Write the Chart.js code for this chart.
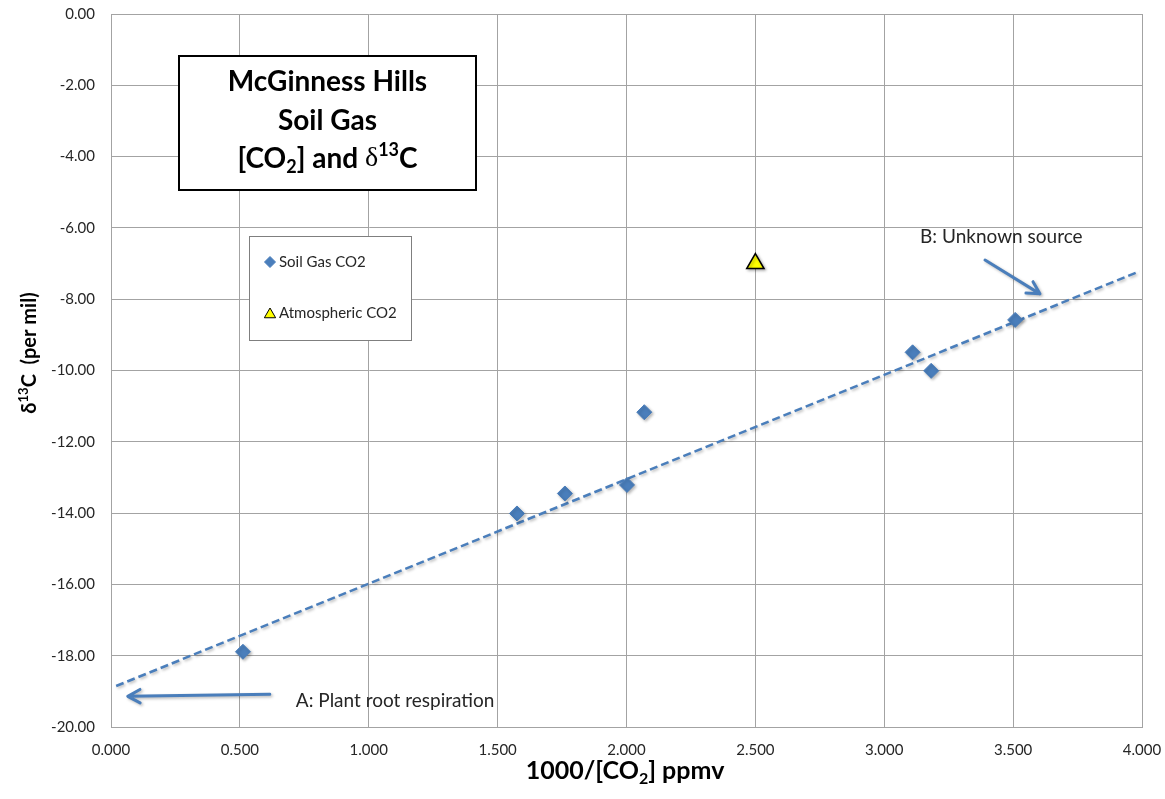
<!DOCTYPE html>
<html>
<head>
<meta charset="utf-8">
<title>McGinness Hills Soil Gas</title>
<script src="https://cdn.jsdelivr.net/npm/chart.js@4.4.0/dist/chart.umd.min.js"></script>
<style>
  html, body { margin: 0; padding: 0; background: #fff; overflow: hidden; }
  #wrap { width: 1165px; height: 799px; position: relative; }
  canvas { display: block; }
</style>
</head>
<body>
<div id="wrap"><canvas id="co2-chart"></canvas></div>
<script>
// Soil gas samples: 1000/[CO2] (ppmv) against d13C (per mil)
const soilX = [0.512, 1.575, 1.761, 2.002, 2.069, 3.110, 3.182, 3.508];
const soilY = [-17.89, -14.01, -13.45, -13.21, -11.17, -9.49, -10.01, -8.58];

// Atmospheric reference point
const atmX = [2.50];
const atmY = [-7.00];

// Linear trend through the soil gas samples (end points)
const trendX = [0.02, 3.99];
const trendY = [-18.85, -7.22];

// Axis ticks
const xTicks = [0, 0.5, 1, 1.5, 2, 2.5, 3, 3.5, 4];
const yTicks = [0, -2, -4, -6, -8, -10, -12, -14, -16, -18, -20];

const BLUE = '#4a7ebb';
const FONT = 'Lato';

// Arrows + notes, in axis units
const notes = [
  { from: [0.616, -19.08], to: [0.065, -19.14], text: 'A: Plant root respiration', at: [0.717, -19.27] },
  { from: [3.391, -6.90], to: [3.604, -7.85], text: 'B: Unknown source', at: [3.139, -6.25] }
];

// draws a run of text pieces (with sub/superscripts), centred or left aligned at x
function drawRich(ctx, parts, x, y, size, weight, align) {
  const fontOf = p => {
    const s = p.pos ? Math.round(size * 0.65) : size;
    return `${p.weight || weight} ${s}px ${p.family || FONT}`;
  };
  let total = 0;
  parts.forEach(p => { ctx.font = fontOf(p); total += ctx.measureText(p.t).width; });
  let cx = align === 'left' ? x : x - total / 2;
  ctx.textAlign = 'left';
  ctx.textBaseline = 'middle';
  parts.forEach(p => {
    ctx.font = fontOf(p);
    let dy = 0;
    if (p.pos === 'sub') dy = size * 0.3;
    if (p.pos === 'sup') dy = -size * 0.3;
    ctx.fillText(p.t, cx, y + dy);
    cx += ctx.measureText(p.t).width;
  });
}

function drawArrow(ctx, x1, y1, x2, y2) {
  const ang = Math.atan2(y2 - y1, x2 - x1);
  const head = 14, spread = 0.5;
  ctx.beginPath();
  ctx.moveTo(x1, y1);
  ctx.lineTo(x2, y2);
  ctx.moveTo(x2 - head * Math.cos(ang - spread), y2 - head * Math.sin(ang - spread));
  ctx.lineTo(x2, y2);
  ctx.lineTo(x2 - head * Math.cos(ang + spread), y2 - head * Math.sin(ang + spread));
  ctx.stroke();
}

function setShadow(ctx) {
  ctx.shadowColor = 'rgba(0,0,0,0.28)';
  ctx.shadowBlur = 3;
  ctx.shadowOffsetX = 1.5;
  ctx.shadowOffsetY = 1.5;
}

const decorations = {
  id: 'decorations',
  beforeDraw(chart) {
    const ctx = chart.ctx;
    ctx.save();
    ctx.fillStyle = '#fff';
    ctx.fillRect(0, 0, chart.width, chart.height);
    ctx.restore();
  },
  beforeDatasetsDraw(chart) {
    chart.ctx.save();
    setShadow(chart.ctx);
  },
  afterDatasetsDraw(chart) {
    chart.ctx.restore();
  },
  afterDraw(chart) {
    const ctx = chart.ctx;
    const xs = chart.scales.x, ys = chart.scales.y;

    // arrows and their notes
    ctx.save();
    ctx.strokeStyle = BLUE;
    ctx.lineWidth = 3;
    ctx.lineCap = 'round';
    ctx.lineJoin = 'round';
    notes.forEach(n => {
      ctx.save();
      setShadow(ctx);
      drawArrow(ctx, xs.getPixelForValue(n.from[0]), ys.getPixelForValue(n.from[1]),
        xs.getPixelForValue(n.to[0]), ys.getPixelForValue(n.to[1]));
      ctx.restore();
      ctx.fillStyle = '#262626';
      drawRich(ctx, [{ t: n.text }], xs.getPixelForValue(n.at[0]), ys.getPixelForValue(n.at[1]), 19, 'normal', 'left');
    });
    ctx.restore();

    // title box
    ctx.save();
    ctx.fillStyle = '#fff';
    ctx.fillRect(179, 56, 297, 134);
    ctx.strokeStyle = '#000';
    ctx.lineWidth = 2;
    ctx.strokeRect(179, 56, 297, 134);
    ctx.fillStyle = '#000';
    const tcx = 327.5;
    drawRich(ctx, [{ t: 'McGinness Hills' }], tcx, 82, 28, 'bold');
    drawRich(ctx, [{ t: 'Soil Gas' }], tcx, 121, 28, 'bold');
    drawRich(ctx, [
      { t: '[CO' }, { t: '2', pos: 'sub' }, { t: '] and ' },
      { t: 'δ', family: '"Liberation Serif"', weight: 'normal' },
      { t: '13', pos: 'sup' }, { t: 'C' }
    ], tcx, 159, 28, 'bold');
    ctx.restore();

    // legend box, built from the scatter datasets
    ctx.save();
    ctx.fillStyle = '#fff';
    ctx.fillRect(249.5, 236.5, 162, 104);
    ctx.strokeStyle = '#7f7f7f';
    ctx.lineWidth = 1;
    ctx.strokeRect(249.5, 236.5, 162, 104);
    const rows = [262, 313];
    chart.data.datasets.filter(d => d.inLegend).forEach((d, i) => {
      ctx.fillStyle = d.backgroundColor;
      ctx.strokeStyle = d.borderColor;
      ctx.lineWidth = 1;
      Chart.helpers.drawPoint(ctx, {
        pointStyle: d.pointStyle, rotation: 0,
        radius: d.pointStyle === 'triangle' ? 6.5 : 5.5, borderWidth: 1
      }, 270, rows[i] + (d.pointStyle === 'triangle' ? 1.5 : 0));
      ctx.fillStyle = '#262626';
      drawRich(ctx, [{ t: d.label }], 279, rows[i], 15, 'normal', 'left');
    });
    ctx.restore();

    // axis titles
    ctx.save();
    ctx.fillStyle = '#000';
    drawRich(ctx, [
      { t: '1000/[CO' }, { t: '2', pos: 'sub' }, { t: '] ppmv' }
    ], 625, 771, 25, 'bold');
    ctx.translate(30, 353);
    ctx.rotate(-Math.PI / 2);
    drawRich(ctx, [
      { t: 'δ' }, { t: '13', pos: 'sup' }, { t: 'C  (per mil)' }
    ], 0, 0, 20, 'bold');
    ctx.restore();
  }
};

const gridColor = '#a3a3a3';

new Chart(document.getElementById('co2-chart'), {
  type: 'scatter',
  data: {
    datasets: [
      {
        label: 'Soil Gas CO2',
        inLegend: true,
        data: soilX.map((x, i) => ({ x, y: soilY[i] })),
        pointStyle: 'rectRot',
        pointRadius: 7.5,
        backgroundColor: BLUE,
        borderColor: BLUE,
        borderWidth: 1,
        order: 2
      },
      {
        label: 'Atmospheric CO2',
        inLegend: true,
        data: atmX.map((x, i) => ({ x, y: atmY[i] })),
        pointStyle: 'triangle',
        pointRadius: 10,
        backgroundColor: '#ffff00',
        borderColor: '#000',
        borderWidth: 1.5,
        order: 1
      },
      {
        label: 'Linear trend',
        data: trendX.map((x, i) => ({ x, y: trendY[i] })),
        showLine: true,
        pointRadius: 0,
        borderColor: BLUE,
        borderWidth: 2.5,
        borderDash: [8, 4],
        fill: false,
        order: 3
      }
    ]
  },
  options: {
    responsive: true,
    maintainAspectRatio: false,
    animation: false,
    layout: { padding: { top: 14, right: 23, left: 0, bottom: 0 } },
    plugins: {
      legend: { display: false },
      tooltip: { enabled: false }
    },
    scales: {
      x: {
        type: 'linear',
        min: 0,
        max: 4,
        afterBuildTicks: s => { s.ticks = xTicks.map(v => ({ value: v })); },
        afterFit: s => { s.height = 72; },
        // invisible tick marks keep the labels clear of the axis
        grid: { color: gridColor, drawTicks: true, tickLength: 12, tickColor: 'rgba(0,0,0,0)' },
        border: { color: gridColor },
        ticks: {
          padding: 2,
          color: '#262626',
          font: { family: FONT, size: 15 },
          callback: v => Number(v).toFixed(3)
        }
      },
      y: {
        type: 'linear',
        min: -20,
        max: 0,
        afterBuildTicks: s => { s.ticks = yTicks.map(v => ({ value: v })); },
        afterFit: s => { s.width = 111; },
        grid: { color: gridColor, drawTicks: true, tickLength: 14, tickColor: 'rgba(0,0,0,0)' },
        border: { color: gridColor },
        ticks: {
          padding: 2,
          color: '#262626',
          font: { family: FONT, size: 15 },
          callback: v => Number(v).toFixed(2)
        }
      }
    }
  },
  plugins: [decorations]
});
</script>
</body>
</html>
